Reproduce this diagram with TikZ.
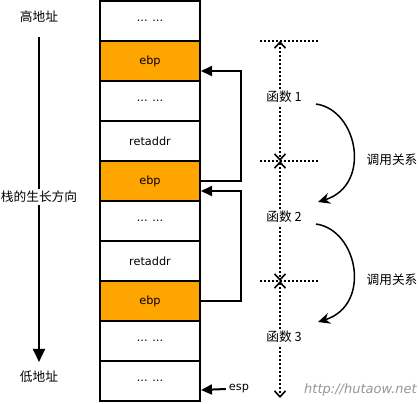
\documentclass[tikz,border=0pt]{standalone}
\usepackage{fontspec}
\setmainfont{DejaVu Sans}
\newfontfamily\cjk{Noto Sans CJK SC}
\usetikzlibrary{arrows.meta}
\definecolor{stackorange}{RGB}{255,165,0}
\definecolor{wmgrey}{RGB}{150,150,150}
\begin{document}
\begin{tikzpicture}[x=1pt,y=-1pt,
  cell/.style={draw=black,line width=2pt,minimum width=100pt,minimum height=40pt,inner sep=0pt,font=\fontsize{11.3}{13}\selectfont},
  ebpcell/.style={cell,fill=stackorange},
  conn/.style={draw=black,line width=2pt,-{Triangle[length=11pt,width=10pt]}},
  lbl/.style={font=\cjk\fontsize{12.7}{14}\selectfont,inner sep=2pt},
  dimline/.style={line width=2pt,dash pattern=on 2pt off 2pt},
  dimarrow/.style={dimline,{Straight Barb[length=6pt,width=11pt,line width=1.6pt]}-{Straight Barb[length=6pt,width=11pt,line width=1.6pt]}},
  callarrow/.style={line width=1.5pt,-{Stealth[length=12pt,width=11pt]}}
]
\useasboundingbox (0,0) rectangle (418,404);
% stack cells
\node[cell]    (r1)  at (150,21)  {... ...};
\node[ebpcell] (r2)  at (150,61)  {ebp};
\node[cell]    (r3)  at (150,101) {... ...};
\node[cell]    (r4)  at (150,141) {retaddr};
\node[ebpcell] (r5)  at (150,181) {ebp};
\node[cell]    (r6)  at (150,221) {... ...};
\node[cell]    (r7)  at (150,261) {retaddr};
\node[ebpcell] (r8)  at (150,301) {ebp};
\node[cell]    (r9)  at (150,341) {... ...};
\node[cell]    (r10) at (150,381) {... ...};
% ebp chain
\draw[conn] (r5.east) -- ++(40,0) |- ([yshift=-10pt]r2.east);
\draw[conn] (r8.east) -- ++(40,0) |- ([yshift=-10pt]r5.east);
% esp
\node[font=\fontsize{11.3}{13}\selectfont,inner sep=3pt] (esp) at (239,389) {esp};
\draw[conn] (esp.west) -- ([yshift=-9pt]r10.east);
% growth direction
\node[lbl] (hi) at (39,17) {高地址};
\node[lbl] (lo) at (39,377) {低地址};
\draw[line width=2pt,-{Triangle[length=13pt,width=12pt]},shorten <=12pt,shorten >=7pt] (hi.south) -- (lo.north);
\node[lbl,fill=white] (grow) at (39,197) {栈的生长方向};
% function extents
\coordinate (d1) at (280,41);
\coordinate (d2) at (280,161);
\coordinate (d3) at (280,281);
\coordinate (d4) at (280,398);
\foreach \c in {d1,d2,d3}{
  \draw[dimline] ([xshift=-20pt]\c) -- ([xshift=38pt]\c);
}
\draw[dimarrow] (d1) -- (d2);
\draw[dimarrow] (d2) -- (d3);
\draw[dimarrow] (d3) -- (d4);
\node[lbl,fill=white] (f1) at (284,97)  {函数 1};
\node[lbl,fill=white] (f2) at (284,217) {函数 2};
\node[lbl,fill=white] (f3) at (284,337) {函数 3};
% call relations
\coordinate (c1s) at (316,104);
\coordinate (c1e) at (318,202);
\coordinate (c2s) at (316,224);
\coordinate (c2e) at (318,322);
\draw[callarrow] (c1s) .. controls (358,110) and (372,185) .. (c1e);
\draw[callarrow] (c2s) .. controls (358,230) and (372,305) .. (c2e);
\node[lbl] (call1) at (392,160) {调用关系};
\node[lbl] (call2) at (392,280) {调用关系};
% watermark
\node[font=\itshape\fontsize{13}{15}\selectfont,text=wmgrey] (wm) at (360.5,390) {http://hutaow.net};
\end{tikzpicture}
\end{document}
